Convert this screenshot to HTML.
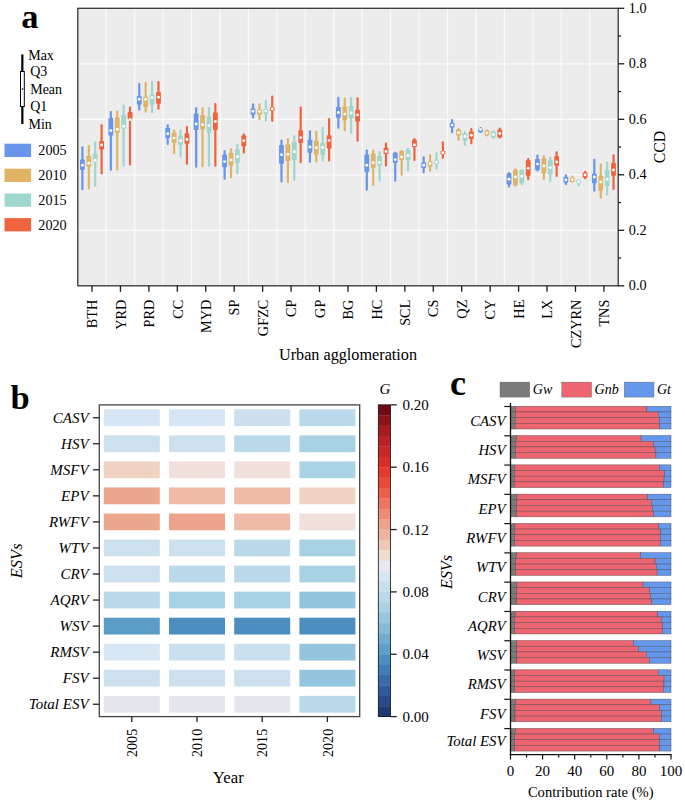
<!DOCTYPE html>
<html><head><meta charset="utf-8"><style>
html,body{margin:0;padding:0;background:#fff;}
svg{display:block;}
text{font-family:"Liberation Serif", serif;fill:#000;}
.it{font-style:italic;}
.bd{font-weight:bold;}
</style></head><body>
<svg width="685" height="802" viewBox="0 0 685 802">
<rect x="77.8" y="8.3" width="540.4" height="277.5" fill="#ebeceb"/>
<line x1="77.8" x2="618.2" y1="230.30" y2="230.30" stroke="#fbfbfb" stroke-width="1.2"/>
<line x1="77.8" x2="618.2" y1="174.80" y2="174.80" stroke="#fbfbfb" stroke-width="1.2"/>
<line x1="77.8" x2="618.2" y1="119.30" y2="119.30" stroke="#fbfbfb" stroke-width="1.2"/>
<line x1="77.8" x2="618.2" y1="63.80" y2="63.80" stroke="#fbfbfb" stroke-width="1.2"/>
<line x1="106.22" x2="106.22" y1="8.3" y2="285.8" stroke="#fbfbfb" stroke-width="1.2"/>
<line x1="134.66" x2="134.66" y1="8.3" y2="285.8" stroke="#fbfbfb" stroke-width="1.2"/>
<line x1="163.10" x2="163.10" y1="8.3" y2="285.8" stroke="#fbfbfb" stroke-width="1.2"/>
<line x1="191.54" x2="191.54" y1="8.3" y2="285.8" stroke="#fbfbfb" stroke-width="1.2"/>
<line x1="219.98" x2="219.98" y1="8.3" y2="285.8" stroke="#fbfbfb" stroke-width="1.2"/>
<line x1="248.42" x2="248.42" y1="8.3" y2="285.8" stroke="#fbfbfb" stroke-width="1.2"/>
<line x1="276.86" x2="276.86" y1="8.3" y2="285.8" stroke="#fbfbfb" stroke-width="1.2"/>
<line x1="305.30" x2="305.30" y1="8.3" y2="285.8" stroke="#fbfbfb" stroke-width="1.2"/>
<line x1="333.74" x2="333.74" y1="8.3" y2="285.8" stroke="#fbfbfb" stroke-width="1.2"/>
<line x1="362.18" x2="362.18" y1="8.3" y2="285.8" stroke="#fbfbfb" stroke-width="1.2"/>
<line x1="390.62" x2="390.62" y1="8.3" y2="285.8" stroke="#fbfbfb" stroke-width="1.2"/>
<line x1="419.06" x2="419.06" y1="8.3" y2="285.8" stroke="#fbfbfb" stroke-width="1.2"/>
<line x1="447.50" x2="447.50" y1="8.3" y2="285.8" stroke="#fbfbfb" stroke-width="1.2"/>
<line x1="475.94" x2="475.94" y1="8.3" y2="285.8" stroke="#fbfbfb" stroke-width="1.2"/>
<line x1="504.38" x2="504.38" y1="8.3" y2="285.8" stroke="#fbfbfb" stroke-width="1.2"/>
<line x1="532.82" x2="532.82" y1="8.3" y2="285.8" stroke="#fbfbfb" stroke-width="1.2"/>
<line x1="561.26" x2="561.26" y1="8.3" y2="285.8" stroke="#fbfbfb" stroke-width="1.2"/>
<line x1="589.70" x2="589.70" y1="8.3" y2="285.8" stroke="#fbfbfb" stroke-width="1.2"/>
<rect x="81.30" y="146.2" width="2.2" height="44.1" rx="1" fill="#6796ea"/>
<rect x="80.00" y="159.6" width="4.8" height="10.1" rx="0.6" fill="#6796ea"/>
<circle cx="82.40" cy="165.3" r="1.45" fill="#fff"/>
<rect x="87.70" y="144.9" width="2.2" height="44.7" rx="1" fill="#e0b464"/>
<rect x="86.40" y="155.9" width="4.8" height="10.9" rx="0.6" fill="#e0b464"/>
<circle cx="88.80" cy="163.2" r="1.45" fill="#fff"/>
<rect x="94.10" y="141.3" width="2.2" height="45.4" rx="1" fill="#9fd7cf"/>
<rect x="92.80" y="153.5" width="4.8" height="8.1" rx="0.6" fill="#9fd7cf"/>
<circle cx="95.20" cy="160.3" r="1.45" fill="#fff"/>
<rect x="100.50" y="124.3" width="2.2" height="50.2" rx="1" fill="#ef643c"/>
<rect x="99.20" y="141.0" width="4.8" height="8.4" rx="0.6" fill="#ef643c"/>
<circle cx="101.60" cy="145.0" r="1.45" fill="#fff"/>
<rect x="109.74" y="111.0" width="2.2" height="59.8" rx="1" fill="#6796ea"/>
<rect x="108.44" y="118.1" width="4.8" height="17.5" rx="0.6" fill="#6796ea"/>
<circle cx="110.84" cy="130.6" r="1.45" fill="#fff"/>
<rect x="116.14" y="110.5" width="2.2" height="60.0" rx="1" fill="#e0b464"/>
<rect x="114.84" y="117.5" width="4.8" height="15.4" rx="0.6" fill="#e0b464"/>
<circle cx="117.24" cy="129.2" r="1.45" fill="#fff"/>
<rect x="122.54" y="104.5" width="2.2" height="62.3" rx="1" fill="#9fd7cf"/>
<rect x="121.24" y="114.9" width="4.8" height="13.8" rx="0.6" fill="#9fd7cf"/>
<circle cx="123.64" cy="126.2" r="1.45" fill="#fff"/>
<rect x="128.94" y="106.5" width="2.2" height="59.1" rx="1" fill="#ef643c"/>
<rect x="127.64" y="112.1" width="4.8" height="7.3" rx="0.6" fill="#ef643c"/>
<circle cx="130.04" cy="119.4" r="1.45" fill="#fff"/>
<rect x="138.18" y="83.0" width="2.2" height="27.5" rx="1" fill="#6796ea"/>
<rect x="136.88" y="95.9" width="4.8" height="8.6" rx="0.6" fill="#6796ea"/>
<circle cx="139.28" cy="99.2" r="1.45" fill="#fff"/>
<rect x="144.58" y="81.8" width="2.2" height="30.7" rx="1" fill="#e0b464"/>
<rect x="143.28" y="96.7" width="4.8" height="10.3" rx="0.6" fill="#e0b464"/>
<circle cx="145.68" cy="99.2" r="1.45" fill="#fff"/>
<rect x="150.98" y="81.0" width="2.2" height="32.0" rx="1" fill="#9fd7cf"/>
<rect x="149.68" y="94.3" width="4.8" height="10.2" rx="0.6" fill="#9fd7cf"/>
<circle cx="152.08" cy="97.6" r="1.45" fill="#fff"/>
<rect x="157.38" y="81.0" width="2.2" height="28.7" rx="1" fill="#ef643c"/>
<rect x="156.08" y="91.9" width="4.8" height="11.8" rx="0.6" fill="#ef643c"/>
<circle cx="158.48" cy="97.2" r="1.45" fill="#fff"/>
<rect x="166.62" y="124.3" width="2.2" height="20.6" rx="1" fill="#6796ea"/>
<rect x="165.32" y="127.9" width="4.8" height="10.2" rx="0.6" fill="#6796ea"/>
<circle cx="167.72" cy="133.7" r="1.45" fill="#fff"/>
<rect x="173.02" y="129.6" width="2.2" height="24.7" rx="1" fill="#e0b464"/>
<rect x="171.72" y="132.4" width="4.8" height="10.5" rx="0.6" fill="#e0b464"/>
<circle cx="174.12" cy="138.1" r="1.45" fill="#fff"/>
<rect x="179.42" y="129.6" width="2.2" height="28.2" rx="1" fill="#9fd7cf"/>
<rect x="178.12" y="135.6" width="4.8" height="9.3" rx="0.6" fill="#9fd7cf"/>
<circle cx="180.52" cy="140.8" r="1.45" fill="#fff"/>
<rect x="185.82" y="125.9" width="2.2" height="38.9" rx="1" fill="#ef643c"/>
<rect x="184.52" y="133.2" width="4.8" height="10.5" rx="0.6" fill="#ef643c"/>
<circle cx="186.92" cy="139.4" r="1.45" fill="#fff"/>
<rect x="195.06" y="107.3" width="2.2" height="60.4" rx="1" fill="#6796ea"/>
<rect x="193.76" y="113.4" width="4.8" height="16.6" rx="0.6" fill="#6796ea"/>
<circle cx="196.16" cy="124.0" r="1.45" fill="#fff"/>
<rect x="201.46" y="107.3" width="2.2" height="59.9" rx="1" fill="#e0b464"/>
<rect x="200.16" y="115.0" width="4.8" height="14.6" rx="0.6" fill="#e0b464"/>
<circle cx="202.56" cy="124.8" r="1.45" fill="#fff"/>
<rect x="207.86" y="107.0" width="2.2" height="59.8" rx="1" fill="#9fd7cf"/>
<rect x="206.56" y="116.5" width="4.8" height="16.4" rx="0.6" fill="#9fd7cf"/>
<circle cx="208.96" cy="125.6" r="1.45" fill="#fff"/>
<rect x="214.26" y="102.9" width="2.2" height="63.9" rx="1" fill="#ef643c"/>
<rect x="212.96" y="112.6" width="4.8" height="17.4" rx="0.6" fill="#ef643c"/>
<circle cx="215.36" cy="121.5" r="1.45" fill="#fff"/>
<rect x="223.50" y="149.9" width="2.2" height="29.8" rx="1" fill="#6796ea"/>
<rect x="222.20" y="154.6" width="4.8" height="12.6" rx="0.6" fill="#6796ea"/>
<circle cx="224.60" cy="161.6" r="1.45" fill="#fff"/>
<rect x="229.90" y="148.3" width="2.2" height="30.0" rx="1" fill="#e0b464"/>
<rect x="228.60" y="152.7" width="4.8" height="12.9" rx="0.6" fill="#e0b464"/>
<circle cx="231.00" cy="160.0" r="1.45" fill="#fff"/>
<rect x="236.30" y="143.7" width="2.2" height="30.8" rx="1" fill="#9fd7cf"/>
<rect x="235.00" y="149.4" width="4.8" height="13.8" rx="0.6" fill="#9fd7cf"/>
<circle cx="237.40" cy="156.7" r="1.45" fill="#fff"/>
<rect x="242.70" y="133.2" width="2.2" height="20.3" rx="1" fill="#ef643c"/>
<rect x="241.40" y="135.6" width="4.8" height="10.6" rx="0.6" fill="#ef643c"/>
<circle cx="243.80" cy="140.8" r="1.45" fill="#fff"/>
<rect x="251.94" y="103.2" width="2.2" height="15.4" rx="1" fill="#6796ea"/>
<rect x="250.64" y="108.4" width="4.8" height="6.2" rx="0.6" fill="#6796ea"/>
<circle cx="253.04" cy="111.3" r="1.45" fill="#fff"/>
<rect x="258.34" y="103.2" width="2.2" height="17.0" rx="1" fill="#e0b464"/>
<rect x="257.04" y="109.4" width="4.8" height="5.2" rx="0.6" fill="#e0b464"/>
<circle cx="259.44" cy="111.6" r="1.45" fill="#fff"/>
<rect x="264.74" y="99.7" width="2.2" height="21.8" rx="1" fill="#9fd7cf"/>
<rect x="263.44" y="108.9" width="4.8" height="4.9" rx="0.6" fill="#9fd7cf"/>
<circle cx="265.84" cy="111.0" r="1.45" fill="#fff"/>
<rect x="271.14" y="95.4" width="2.2" height="26.5" rx="1" fill="#ef643c"/>
<rect x="269.84" y="107.3" width="4.8" height="3.5" rx="0.6" fill="#ef643c"/>
<circle cx="272.24" cy="108.9" r="1.45" fill="#fff"/>
<rect x="280.38" y="139.4" width="2.2" height="43.2" rx="1" fill="#6796ea"/>
<rect x="279.08" y="145.0" width="4.8" height="18.7" rx="0.6" fill="#6796ea"/>
<circle cx="281.48" cy="154.8" r="1.45" fill="#fff"/>
<rect x="286.78" y="138.1" width="2.2" height="44.9" rx="1" fill="#e0b464"/>
<rect x="285.48" y="144.2" width="4.8" height="16.9" rx="0.6" fill="#e0b464"/>
<circle cx="287.88" cy="154.3" r="1.45" fill="#fff"/>
<rect x="293.18" y="135.3" width="2.2" height="45.4" rx="1" fill="#9fd7cf"/>
<rect x="291.88" y="142.1" width="4.8" height="17.9" rx="0.6" fill="#9fd7cf"/>
<circle cx="294.28" cy="151.8" r="1.45" fill="#fff"/>
<rect x="299.58" y="106.5" width="2.2" height="56.7" rx="1" fill="#ef643c"/>
<rect x="298.28" y="130.3" width="4.8" height="12.6" rx="0.6" fill="#ef643c"/>
<circle cx="300.68" cy="137.6" r="1.45" fill="#fff"/>
<rect x="308.82" y="130.3" width="2.2" height="32.4" rx="1" fill="#6796ea"/>
<rect x="307.52" y="139.7" width="4.8" height="13.0" rx="0.6" fill="#6796ea"/>
<circle cx="309.92" cy="147.0" r="1.45" fill="#fff"/>
<rect x="315.22" y="130.8" width="2.2" height="31.6" rx="1" fill="#e0b464"/>
<rect x="313.92" y="140.8" width="4.8" height="13.8" rx="0.6" fill="#e0b464"/>
<circle cx="316.32" cy="147.8" r="1.45" fill="#fff"/>
<rect x="321.62" y="126.7" width="2.2" height="34.9" rx="1" fill="#9fd7cf"/>
<rect x="320.32" y="142.9" width="4.8" height="12.2" rx="0.6" fill="#9fd7cf"/>
<circle cx="322.72" cy="147.5" r="1.45" fill="#fff"/>
<rect x="328.02" y="118.1" width="2.2" height="43.5" rx="1" fill="#ef643c"/>
<rect x="326.72" y="135.2" width="4.8" height="13.4" rx="0.6" fill="#ef643c"/>
<circle cx="329.12" cy="140.5" r="1.45" fill="#fff"/>
<rect x="337.26" y="96.7" width="2.2" height="32.0" rx="1" fill="#6796ea"/>
<rect x="335.96" y="107.0" width="4.8" height="10.8" rx="0.6" fill="#6796ea"/>
<circle cx="338.36" cy="112.5" r="1.45" fill="#fff"/>
<rect x="343.66" y="97.6" width="2.2" height="33.7" rx="1" fill="#e0b464"/>
<rect x="342.36" y="106.5" width="4.8" height="14.1" rx="0.6" fill="#e0b464"/>
<circle cx="344.76" cy="114.1" r="1.45" fill="#fff"/>
<rect x="350.06" y="96.7" width="2.2" height="37.0" rx="1" fill="#9fd7cf"/>
<rect x="348.76" y="106.0" width="4.8" height="12.3" rx="0.6" fill="#9fd7cf"/>
<circle cx="351.16" cy="113.0" r="1.45" fill="#fff"/>
<rect x="356.46" y="97.2" width="2.2" height="44.6" rx="1" fill="#ef643c"/>
<rect x="355.16" y="109.7" width="4.8" height="11.8" rx="0.6" fill="#ef643c"/>
<circle cx="357.56" cy="114.9" r="1.45" fill="#fff"/>
<rect x="365.70" y="149.4" width="2.2" height="41.3" rx="1" fill="#6796ea"/>
<rect x="364.40" y="154.6" width="4.8" height="17.5" rx="0.6" fill="#6796ea"/>
<circle cx="366.80" cy="165.3" r="1.45" fill="#fff"/>
<rect x="372.10" y="149.4" width="2.2" height="36.5" rx="1" fill="#e0b464"/>
<rect x="370.80" y="153.5" width="4.8" height="14.6" rx="0.6" fill="#e0b464"/>
<circle cx="373.20" cy="162.7" r="1.45" fill="#fff"/>
<rect x="378.50" y="151.0" width="2.2" height="30.5" rx="1" fill="#9fd7cf"/>
<rect x="377.20" y="155.9" width="4.8" height="9.7" rx="0.6" fill="#9fd7cf"/>
<circle cx="379.60" cy="162.4" r="1.45" fill="#fff"/>
<rect x="384.90" y="142.4" width="2.2" height="24.0" rx="1" fill="#ef643c"/>
<rect x="383.60" y="147.8" width="4.8" height="6.2" rx="0.6" fill="#ef643c"/>
<circle cx="386.00" cy="151.5" r="1.45" fill="#fff"/>
<rect x="394.14" y="151.8" width="2.2" height="30.0" rx="1" fill="#6796ea"/>
<rect x="392.84" y="152.7" width="4.8" height="10.0" rx="0.6" fill="#6796ea"/>
<circle cx="395.24" cy="159.6" r="1.45" fill="#fff"/>
<rect x="400.54" y="149.7" width="2.2" height="26.0" rx="1" fill="#e0b464"/>
<rect x="399.24" y="151.0" width="4.8" height="9.0" rx="0.6" fill="#e0b464"/>
<circle cx="401.64" cy="157.0" r="1.45" fill="#fff"/>
<rect x="406.94" y="147.8" width="2.2" height="23.8" rx="1" fill="#9fd7cf"/>
<rect x="405.64" y="149.4" width="4.8" height="10.6" rx="0.6" fill="#9fd7cf"/>
<circle cx="408.04" cy="155.6" r="1.45" fill="#fff"/>
<rect x="413.34" y="138.1" width="2.2" height="23.0" rx="1" fill="#ef643c"/>
<rect x="412.04" y="139.7" width="4.8" height="7.3" rx="0.6" fill="#ef643c"/>
<circle cx="414.44" cy="144.9" r="1.45" fill="#fff"/>
<rect x="422.58" y="156.2" width="2.2" height="17.0" rx="1" fill="#6796ea"/>
<rect x="421.28" y="162.4" width="4.8" height="5.7" rx="0.6" fill="#6796ea"/>
<circle cx="423.68" cy="165.3" r="1.45" fill="#fff"/>
<rect x="428.98" y="154.3" width="2.2" height="17.5" rx="1" fill="#e0b464"/>
<rect x="427.68" y="161.6" width="4.8" height="4.8" rx="0.6" fill="#e0b464"/>
<circle cx="430.08" cy="163.7" r="1.45" fill="#fff"/>
<rect x="435.38" y="152.2" width="2.2" height="17.5" rx="1" fill="#9fd7cf"/>
<rect x="434.08" y="160.4" width="4.8" height="3.6" rx="0.6" fill="#9fd7cf"/>
<circle cx="436.48" cy="162.1" r="1.45" fill="#fff"/>
<rect x="441.78" y="141.3" width="2.2" height="17.5" rx="1" fill="#ef643c"/>
<rect x="440.48" y="151.0" width="4.8" height="3.3" rx="0.6" fill="#ef643c"/>
<circle cx="442.88" cy="152.7" r="1.45" fill="#fff"/>
<rect x="451.02" y="118.9" width="2.2" height="14.3" rx="1" fill="#6796ea"/>
<rect x="449.72" y="122.7" width="4.8" height="4.8" rx="0.6" fill="#6796ea"/>
<circle cx="452.12" cy="125.1" r="1.45" fill="#fff"/>
<rect x="457.42" y="128.0" width="2.2" height="13.0" rx="1" fill="#e0b464"/>
<rect x="456.12" y="129.6" width="4.8" height="6.0" rx="0.6" fill="#e0b464"/>
<circle cx="458.52" cy="132.7" r="1.45" fill="#fff"/>
<rect x="463.82" y="131.3" width="2.2" height="14.4" rx="1" fill="#9fd7cf"/>
<rect x="462.52" y="133.2" width="4.8" height="7.3" rx="0.6" fill="#9fd7cf"/>
<circle cx="464.92" cy="136.5" r="1.45" fill="#fff"/>
<rect x="470.22" y="128.0" width="2.2" height="16.2" rx="1" fill="#ef643c"/>
<rect x="468.92" y="131.6" width="4.8" height="7.3" rx="0.6" fill="#ef643c"/>
<circle cx="471.32" cy="135.2" r="1.45" fill="#fff"/>
<rect x="479.46" y="127.0" width="2.2" height="5.9" rx="1" fill="#6796ea"/>
<rect x="478.16" y="128.8" width="4.8" height="3.5" rx="0.6" fill="#6796ea"/>
<circle cx="480.56" cy="129.6" r="1.45" fill="#fff"/>
<rect x="485.86" y="129.2" width="2.2" height="7.3" rx="1" fill="#e0b464"/>
<rect x="484.56" y="130.3" width="4.8" height="5.3" rx="0.6" fill="#e0b464"/>
<circle cx="486.96" cy="132.9" r="1.45" fill="#fff"/>
<rect x="492.26" y="130.3" width="2.2" height="8.6" rx="1" fill="#9fd7cf"/>
<rect x="490.96" y="131.9" width="4.8" height="5.4" rx="0.6" fill="#9fd7cf"/>
<circle cx="493.36" cy="134.5" r="1.45" fill="#fff"/>
<rect x="498.66" y="127.5" width="2.2" height="10.9" rx="1" fill="#ef643c"/>
<rect x="497.36" y="129.4" width="4.8" height="8.2" rx="0.6" fill="#ef643c"/>
<circle cx="499.76" cy="133.5" r="1.45" fill="#fff"/>
<rect x="507.90" y="172.0" width="2.2" height="15.5" rx="1" fill="#6796ea"/>
<rect x="506.60" y="173.3" width="4.8" height="11.3" rx="0.6" fill="#6796ea"/>
<circle cx="509.00" cy="179.2" r="1.45" fill="#fff"/>
<rect x="514.30" y="168.3" width="2.2" height="18.4" rx="1" fill="#e0b464"/>
<rect x="513.00" y="169.9" width="4.8" height="15.3" rx="0.6" fill="#e0b464"/>
<circle cx="515.40" cy="177.0" r="1.45" fill="#fff"/>
<rect x="520.70" y="169.1" width="2.2" height="16.1" rx="1" fill="#9fd7cf"/>
<rect x="519.40" y="169.9" width="4.8" height="13.4" rx="0.6" fill="#9fd7cf"/>
<circle cx="521.80" cy="176.2" r="1.45" fill="#fff"/>
<rect x="527.10" y="157.9" width="2.2" height="22.3" rx="1" fill="#ef643c"/>
<rect x="525.80" y="160.1" width="4.8" height="15.7" rx="0.6" fill="#ef643c"/>
<circle cx="528.20" cy="168.3" r="1.45" fill="#fff"/>
<rect x="536.34" y="154.5" width="2.2" height="16.9" rx="1" fill="#6796ea"/>
<rect x="535.04" y="159.1" width="4.8" height="10.8" rx="0.6" fill="#6796ea"/>
<circle cx="537.44" cy="164.1" r="1.45" fill="#fff"/>
<rect x="542.74" y="155.3" width="2.2" height="24.6" rx="1" fill="#e0b464"/>
<rect x="541.44" y="158.2" width="4.8" height="15.1" rx="0.6" fill="#e0b464"/>
<circle cx="543.84" cy="166.0" r="1.45" fill="#fff"/>
<rect x="549.14" y="156.6" width="2.2" height="25.8" rx="1" fill="#9fd7cf"/>
<rect x="547.84" y="159.9" width="4.8" height="14.6" rx="0.6" fill="#9fd7cf"/>
<circle cx="550.24" cy="167.6" r="1.45" fill="#fff"/>
<rect x="555.54" y="151.3" width="2.2" height="25.7" rx="1" fill="#ef643c"/>
<rect x="554.24" y="156.3" width="4.8" height="9.5" rx="0.6" fill="#ef643c"/>
<circle cx="556.64" cy="162.0" r="1.45" fill="#fff"/>
<rect x="564.78" y="174.2" width="2.2" height="10.8" rx="1" fill="#6796ea"/>
<rect x="563.48" y="176.7" width="4.8" height="6.0" rx="0.6" fill="#6796ea"/>
<circle cx="565.88" cy="179.9" r="1.45" fill="#fff"/>
<rect x="571.18" y="175.4" width="2.2" height="7.3" rx="1" fill="#e0b464"/>
<rect x="569.88" y="177.4" width="4.8" height="4.7" rx="0.6" fill="#e0b464"/>
<circle cx="572.28" cy="179.8" r="1.45" fill="#fff"/>
<rect x="577.58" y="178.9" width="2.2" height="7.3" rx="1" fill="#9fd7cf"/>
<rect x="576.28" y="179.9" width="4.8" height="3.4" rx="0.6" fill="#9fd7cf"/>
<circle cx="578.68" cy="181.7" r="1.45" fill="#fff"/>
<rect x="583.98" y="170.8" width="2.2" height="8.4" rx="1" fill="#ef643c"/>
<rect x="582.68" y="172.4" width="4.8" height="5.3" rx="0.6" fill="#ef643c"/>
<circle cx="585.08" cy="174.9" r="1.45" fill="#fff"/>
<rect x="593.22" y="158.8" width="2.2" height="33.0" rx="1" fill="#6796ea"/>
<rect x="591.92" y="173.8" width="4.8" height="9.4" rx="0.6" fill="#6796ea"/>
<circle cx="594.32" cy="177.0" r="1.45" fill="#fff"/>
<rect x="599.62" y="163.5" width="2.2" height="35.3" rx="1" fill="#e0b464"/>
<rect x="598.32" y="175.8" width="4.8" height="15.0" rx="0.6" fill="#e0b464"/>
<circle cx="600.72" cy="182.0" r="1.45" fill="#fff"/>
<rect x="606.02" y="161.5" width="2.2" height="34.0" rx="1" fill="#9fd7cf"/>
<rect x="604.72" y="170.0" width="4.8" height="16.0" rx="0.6" fill="#9fd7cf"/>
<circle cx="607.12" cy="179.3" r="1.45" fill="#fff"/>
<rect x="612.42" y="154.3" width="2.2" height="35.7" rx="1" fill="#ef643c"/>
<rect x="611.12" y="163.0" width="4.8" height="12.8" rx="0.6" fill="#ef643c"/>
<circle cx="613.52" cy="170.0" r="1.45" fill="#fff"/>
<rect x="77.8" y="8.3" width="540.4" height="277.5" fill="none" stroke="#333" stroke-width="1.3"/>
<line x1="618.2" x2="624.2" y1="285.80" y2="285.80" stroke="#1a1a1a" stroke-width="1.3"/>
<text x="628.8" y="290.00" font-size="14.2">0.0</text>
<line x1="618.2" x2="621.0" y1="258.05" y2="258.05" stroke="#1a1a1a" stroke-width="1.3"/>
<line x1="618.2" x2="624.2" y1="230.30" y2="230.30" stroke="#1a1a1a" stroke-width="1.3"/>
<text x="628.8" y="234.50" font-size="14.2">0.2</text>
<line x1="618.2" x2="621.0" y1="202.55" y2="202.55" stroke="#1a1a1a" stroke-width="1.3"/>
<line x1="618.2" x2="624.2" y1="174.80" y2="174.80" stroke="#1a1a1a" stroke-width="1.3"/>
<text x="628.8" y="179.00" font-size="14.2">0.4</text>
<line x1="618.2" x2="621.0" y1="147.05" y2="147.05" stroke="#1a1a1a" stroke-width="1.3"/>
<line x1="618.2" x2="624.2" y1="119.30" y2="119.30" stroke="#1a1a1a" stroke-width="1.3"/>
<text x="628.8" y="123.50" font-size="14.2">0.6</text>
<line x1="618.2" x2="621.0" y1="91.55" y2="91.55" stroke="#1a1a1a" stroke-width="1.3"/>
<line x1="618.2" x2="624.2" y1="63.80" y2="63.80" stroke="#1a1a1a" stroke-width="1.3"/>
<text x="628.8" y="68.00" font-size="14.2">0.8</text>
<line x1="618.2" x2="621.0" y1="36.05" y2="36.05" stroke="#1a1a1a" stroke-width="1.3"/>
<line x1="618.2" x2="624.2" y1="8.30" y2="8.30" stroke="#1a1a1a" stroke-width="1.3"/>
<text x="628.8" y="12.50" font-size="14.2">1.0</text>
<text transform="translate(665.2,147) rotate(-90)" text-anchor="middle" font-size="15.8">CCD</text>
<line x1="92.00" x2="92.00" y1="285.8" y2="291.8" stroke="#1a1a1a" stroke-width="1.3"/>
<text transform="translate(97.20,299.6) rotate(-90)" text-anchor="end" font-size="14.3">BTH</text>
<line x1="120.44" x2="120.44" y1="285.8" y2="291.8" stroke="#1a1a1a" stroke-width="1.3"/>
<text transform="translate(125.64,299.6) rotate(-90)" text-anchor="end" font-size="14.3">YRD</text>
<line x1="148.88" x2="148.88" y1="285.8" y2="291.8" stroke="#1a1a1a" stroke-width="1.3"/>
<text transform="translate(154.08,299.6) rotate(-90)" text-anchor="end" font-size="14.3">PRD</text>
<line x1="177.32" x2="177.32" y1="285.8" y2="291.8" stroke="#1a1a1a" stroke-width="1.3"/>
<text transform="translate(182.52,299.6) rotate(-90)" text-anchor="end" font-size="14.3">CC</text>
<line x1="205.76" x2="205.76" y1="285.8" y2="291.8" stroke="#1a1a1a" stroke-width="1.3"/>
<text transform="translate(210.96,299.6) rotate(-90)" text-anchor="end" font-size="14.3">MYD</text>
<line x1="234.20" x2="234.20" y1="285.8" y2="291.8" stroke="#1a1a1a" stroke-width="1.3"/>
<text transform="translate(239.40,299.6) rotate(-90)" text-anchor="end" font-size="14.3">SP</text>
<line x1="262.64" x2="262.64" y1="285.8" y2="291.8" stroke="#1a1a1a" stroke-width="1.3"/>
<text transform="translate(267.84,299.6) rotate(-90)" text-anchor="end" font-size="14.3">GFZC</text>
<line x1="291.08" x2="291.08" y1="285.8" y2="291.8" stroke="#1a1a1a" stroke-width="1.3"/>
<text transform="translate(296.28,299.6) rotate(-90)" text-anchor="end" font-size="14.3">CP</text>
<line x1="319.52" x2="319.52" y1="285.8" y2="291.8" stroke="#1a1a1a" stroke-width="1.3"/>
<text transform="translate(324.72,299.6) rotate(-90)" text-anchor="end" font-size="14.3">GP</text>
<line x1="347.96" x2="347.96" y1="285.8" y2="291.8" stroke="#1a1a1a" stroke-width="1.3"/>
<text transform="translate(353.16,299.6) rotate(-90)" text-anchor="end" font-size="14.3">BG</text>
<line x1="376.40" x2="376.40" y1="285.8" y2="291.8" stroke="#1a1a1a" stroke-width="1.3"/>
<text transform="translate(381.60,299.6) rotate(-90)" text-anchor="end" font-size="14.3">HC</text>
<line x1="404.84" x2="404.84" y1="285.8" y2="291.8" stroke="#1a1a1a" stroke-width="1.3"/>
<text transform="translate(410.04,299.6) rotate(-90)" text-anchor="end" font-size="14.3">SCL</text>
<line x1="433.28" x2="433.28" y1="285.8" y2="291.8" stroke="#1a1a1a" stroke-width="1.3"/>
<text transform="translate(438.48,299.6) rotate(-90)" text-anchor="end" font-size="14.3">CS</text>
<line x1="461.72" x2="461.72" y1="285.8" y2="291.8" stroke="#1a1a1a" stroke-width="1.3"/>
<text transform="translate(466.92,299.6) rotate(-90)" text-anchor="end" font-size="14.3">QZ</text>
<line x1="490.16" x2="490.16" y1="285.8" y2="291.8" stroke="#1a1a1a" stroke-width="1.3"/>
<text transform="translate(495.36,299.6) rotate(-90)" text-anchor="end" font-size="14.3">CY</text>
<line x1="518.60" x2="518.60" y1="285.8" y2="291.8" stroke="#1a1a1a" stroke-width="1.3"/>
<text transform="translate(523.80,299.6) rotate(-90)" text-anchor="end" font-size="14.3">HE</text>
<line x1="547.04" x2="547.04" y1="285.8" y2="291.8" stroke="#1a1a1a" stroke-width="1.3"/>
<text transform="translate(552.24,299.6) rotate(-90)" text-anchor="end" font-size="14.3">LX</text>
<line x1="575.48" x2="575.48" y1="285.8" y2="291.8" stroke="#1a1a1a" stroke-width="1.3"/>
<text transform="translate(580.68,299.6) rotate(-90)" text-anchor="end" font-size="14.3">CZYRN</text>
<line x1="603.92" x2="603.92" y1="285.8" y2="291.8" stroke="#1a1a1a" stroke-width="1.3"/>
<text transform="translate(609.12,299.6) rotate(-90)" text-anchor="end" font-size="14.3">TNS</text>
<text x="348" y="360" text-anchor="middle" font-size="16.2">Urban agglomeration</text>
<text x="21.3" y="27.6" class="bd" font-size="34.5">a</text>
<line x1="22.35" x2="22.35" y1="54.5" y2="124" stroke="#000" stroke-width="2.2"/>
<rect x="20.5" y="71.5" width="3.8" height="35" fill="#fff" stroke="#000" stroke-width="1"/>
<circle cx="22.5" cy="89.1" r="0.8" fill="#111"/>
<text x="28.2" y="59.6" font-size="14">Max</text>
<text x="30.2" y="76.4" font-size="14">Q3</text>
<text x="30.2" y="94" font-size="14">Mean</text>
<text x="30.2" y="111.2" font-size="14">Q1</text>
<text x="28.5" y="128.5" font-size="14">Min</text>
<rect x="4.5" y="143.7" width="26.6" height="13.3" fill="#6796ea"/>
<text x="38.3" y="155.29999999999998" font-size="14.2">2005</text>
<rect x="4.5" y="168.7" width="26.6" height="13.3" fill="#e0b464"/>
<text x="38.3" y="180.29999999999998" font-size="14.2">2010</text>
<rect x="4.5" y="193.5" width="26.6" height="13.3" fill="#9fd7cf"/>
<text x="38.3" y="205.1" font-size="14.2">2015</text>
<rect x="4.5" y="218.1" width="26.6" height="13.3" fill="#ef643c"/>
<text x="38.3" y="229.7" font-size="14.2">2020</text>
<rect x="103.8" y="409.30" width="56" height="16.8" fill="#d6e6f4"/>
<rect x="169.0" y="409.30" width="56" height="16.8" fill="#d6e6f4"/>
<rect x="234.2" y="409.30" width="56" height="16.8" fill="#cbdfee"/>
<rect x="299.4" y="409.30" width="56" height="16.8" fill="#bad9ea"/>
<rect x="103.8" y="435.35" width="56" height="16.8" fill="#cde0ee"/>
<rect x="169.0" y="435.35" width="56" height="16.8" fill="#cde0ee"/>
<rect x="234.2" y="435.35" width="56" height="16.8" fill="#bad9ea"/>
<rect x="299.4" y="435.35" width="56" height="16.8" fill="#a9d1e4"/>
<rect x="103.8" y="461.40" width="56" height="16.8" fill="#f1d3c3"/>
<rect x="169.0" y="461.40" width="56" height="16.8" fill="#f0e0dc"/>
<rect x="234.2" y="461.40" width="56" height="16.8" fill="#f0e0dc"/>
<rect x="299.4" y="461.40" width="56" height="16.8" fill="#aad3e5"/>
<rect x="103.8" y="487.45" width="56" height="16.8" fill="#eba78c"/>
<rect x="169.0" y="487.45" width="56" height="16.8" fill="#efbba6"/>
<rect x="234.2" y="487.45" width="56" height="16.8" fill="#efbba6"/>
<rect x="299.4" y="487.45" width="56" height="16.8" fill="#f1d3c3"/>
<rect x="103.8" y="513.50" width="56" height="16.8" fill="#eba78c"/>
<rect x="169.0" y="513.50" width="56" height="16.8" fill="#eba48b"/>
<rect x="234.2" y="513.50" width="56" height="16.8" fill="#efbba6"/>
<rect x="299.4" y="513.50" width="56" height="16.8" fill="#f0e0dc"/>
<rect x="103.8" y="539.55" width="56" height="16.8" fill="#cde0ee"/>
<rect x="169.0" y="539.55" width="56" height="16.8" fill="#cde0ee"/>
<rect x="234.2" y="539.55" width="56" height="16.8" fill="#bad9ea"/>
<rect x="299.4" y="539.55" width="56" height="16.8" fill="#a9d1e4"/>
<rect x="103.8" y="565.60" width="56" height="16.8" fill="#cde0ee"/>
<rect x="169.0" y="565.60" width="56" height="16.8" fill="#bad9ea"/>
<rect x="234.2" y="565.60" width="56" height="16.8" fill="#bad9ea"/>
<rect x="299.4" y="565.60" width="56" height="16.8" fill="#a9d1e4"/>
<rect x="103.8" y="591.65" width="56" height="16.8" fill="#bad9ea"/>
<rect x="169.0" y="591.65" width="56" height="16.8" fill="#a9d1e4"/>
<rect x="234.2" y="591.65" width="56" height="16.8" fill="#a9d1e4"/>
<rect x="299.4" y="591.65" width="56" height="16.8" fill="#92c5de"/>
<rect x="103.8" y="617.70" width="56" height="16.8" fill="#5b9dc7"/>
<rect x="169.0" y="617.70" width="56" height="16.8" fill="#4d8ec1"/>
<rect x="234.2" y="617.70" width="56" height="16.8" fill="#4d8ec1"/>
<rect x="299.4" y="617.70" width="56" height="16.8" fill="#4d8ec1"/>
<rect x="103.8" y="643.75" width="56" height="16.8" fill="#d7e7f3"/>
<rect x="169.0" y="643.75" width="56" height="16.8" fill="#cbe0ee"/>
<rect x="234.2" y="643.75" width="56" height="16.8" fill="#cbe0ee"/>
<rect x="299.4" y="643.75" width="56" height="16.8" fill="#93c5de"/>
<rect x="103.8" y="669.80" width="56" height="16.8" fill="#cde0ee"/>
<rect x="169.0" y="669.80" width="56" height="16.8" fill="#cde0ee"/>
<rect x="234.2" y="669.80" width="56" height="16.8" fill="#cde0ee"/>
<rect x="299.4" y="669.80" width="56" height="16.8" fill="#93c5de"/>
<rect x="103.8" y="695.85" width="56" height="16.8" fill="#e4e6ec"/>
<rect x="169.0" y="695.85" width="56" height="16.8" fill="#e4e6ec"/>
<rect x="234.2" y="695.85" width="56" height="16.8" fill="#e4e6ec"/>
<rect x="299.4" y="695.85" width="56" height="16.8" fill="#bad9ea"/>
<rect x="99.3" y="404.9" width="260.4" height="311.7" fill="none" stroke="#444" stroke-width="1.3"/>
<line x1="92.9" x2="99.3" y1="417.70" y2="417.70" stroke="#222" stroke-width="1.3"/>
<text x="88.6" y="422.70" text-anchor="end" class="it" font-size="15">CASV</text>
<line x1="92.9" x2="99.3" y1="443.75" y2="443.75" stroke="#222" stroke-width="1.3"/>
<text x="88.6" y="448.75" text-anchor="end" class="it" font-size="15">HSV</text>
<line x1="92.9" x2="99.3" y1="469.80" y2="469.80" stroke="#222" stroke-width="1.3"/>
<text x="88.6" y="474.80" text-anchor="end" class="it" font-size="15">MSFV</text>
<line x1="92.9" x2="99.3" y1="495.85" y2="495.85" stroke="#222" stroke-width="1.3"/>
<text x="88.6" y="500.85" text-anchor="end" class="it" font-size="15">EPV</text>
<line x1="92.9" x2="99.3" y1="521.90" y2="521.90" stroke="#222" stroke-width="1.3"/>
<text x="88.6" y="526.90" text-anchor="end" class="it" font-size="15">RWFV</text>
<line x1="92.9" x2="99.3" y1="547.95" y2="547.95" stroke="#222" stroke-width="1.3"/>
<text x="88.6" y="552.95" text-anchor="end" class="it" font-size="15">WTV</text>
<line x1="92.9" x2="99.3" y1="574.00" y2="574.00" stroke="#222" stroke-width="1.3"/>
<text x="88.6" y="579.00" text-anchor="end" class="it" font-size="15">CRV</text>
<line x1="92.9" x2="99.3" y1="600.05" y2="600.05" stroke="#222" stroke-width="1.3"/>
<text x="88.6" y="605.05" text-anchor="end" class="it" font-size="15">AQRV</text>
<line x1="92.9" x2="99.3" y1="626.10" y2="626.10" stroke="#222" stroke-width="1.3"/>
<text x="88.6" y="631.10" text-anchor="end" class="it" font-size="15">WSV</text>
<line x1="92.9" x2="99.3" y1="652.15" y2="652.15" stroke="#222" stroke-width="1.3"/>
<text x="88.6" y="657.15" text-anchor="end" class="it" font-size="15">RMSV</text>
<line x1="92.9" x2="99.3" y1="678.20" y2="678.20" stroke="#222" stroke-width="1.3"/>
<text x="88.6" y="683.20" text-anchor="end" class="it" font-size="15">FSV</text>
<line x1="92.9" x2="99.3" y1="704.25" y2="704.25" stroke="#222" stroke-width="1.3"/>
<text x="88.6" y="709.25" text-anchor="end" class="it" font-size="15">Total ESV</text>
<line x1="131.8" x2="131.8" y1="716.6" y2="722.1" stroke="#222" stroke-width="1.3"/>
<text transform="translate(137.0,728.8) rotate(-90)" text-anchor="end" font-size="14.1">2005</text>
<line x1="197.0" x2="197.0" y1="716.6" y2="722.1" stroke="#222" stroke-width="1.3"/>
<text transform="translate(202.2,728.8) rotate(-90)" text-anchor="end" font-size="14.1">2010</text>
<line x1="262.2" x2="262.2" y1="716.6" y2="722.1" stroke="#222" stroke-width="1.3"/>
<text transform="translate(267.4,728.8) rotate(-90)" text-anchor="end" font-size="14.1">2015</text>
<line x1="327.4" x2="327.4" y1="716.6" y2="722.1" stroke="#222" stroke-width="1.3"/>
<text transform="translate(332.6,728.8) rotate(-90)" text-anchor="end" font-size="14.1">2020</text>
<text x="228.3" y="782.6" text-anchor="middle" font-size="16.8">Year</text>
<text transform="translate(22.3,560.8) rotate(-90)" text-anchor="middle" class="it" font-size="16.5">ESVs</text>
<text x="10.6" y="408.8" class="bd" font-size="34.5">b</text>
<rect x="378.3" y="404.85" width="12.2" height="10.69" fill="#6f0b16"/>
<rect x="378.3" y="415.24" width="12.2" height="10.69" fill="#8b141a"/>
<rect x="378.3" y="425.63" width="12.2" height="10.69" fill="#a71c20"/>
<rect x="378.3" y="436.03" width="12.2" height="10.69" fill="#b92125"/>
<rect x="378.3" y="446.42" width="12.2" height="10.69" fill="#c92727"/>
<rect x="378.3" y="456.81" width="12.2" height="10.69" fill="#d92d2a"/>
<rect x="378.3" y="467.20" width="12.2" height="10.69" fill="#e6382d"/>
<rect x="378.3" y="477.59" width="12.2" height="10.69" fill="#eb4a3a"/>
<rect x="378.3" y="487.98" width="12.2" height="10.69" fill="#ec5f4b"/>
<rect x="378.3" y="498.38" width="12.2" height="10.69" fill="#ed7660"/>
<rect x="378.3" y="508.77" width="12.2" height="10.69" fill="#ee8b75"/>
<rect x="378.3" y="519.16" width="12.2" height="10.69" fill="#eea08a"/>
<rect x="378.3" y="529.55" width="12.2" height="10.69" fill="#efb49f"/>
<rect x="378.3" y="539.94" width="12.2" height="10.69" fill="#f0c8b8"/>
<rect x="378.3" y="550.33" width="12.2" height="10.69" fill="#f0dcd2"/>
<rect x="378.3" y="560.73" width="12.2" height="10.69" fill="#e8e9f1"/>
<rect x="378.3" y="571.12" width="12.2" height="10.69" fill="#d5e6f4"/>
<rect x="378.3" y="581.51" width="12.2" height="10.69" fill="#c9dfed"/>
<rect x="378.3" y="591.90" width="12.2" height="10.69" fill="#bcd9ea"/>
<rect x="378.3" y="602.29" width="12.2" height="10.69" fill="#abd2e4"/>
<rect x="378.3" y="612.68" width="12.2" height="10.69" fill="#98c7df"/>
<rect x="378.3" y="623.08" width="12.2" height="10.69" fill="#86bbd8"/>
<rect x="378.3" y="633.47" width="12.2" height="10.69" fill="#71adcf"/>
<rect x="378.3" y="643.86" width="12.2" height="10.69" fill="#5d9fc8"/>
<rect x="378.3" y="654.25" width="12.2" height="10.69" fill="#4d8ec1"/>
<rect x="378.3" y="664.64" width="12.2" height="10.69" fill="#417db7"/>
<rect x="378.3" y="675.03" width="12.2" height="10.69" fill="#386bac"/>
<rect x="378.3" y="685.43" width="12.2" height="10.69" fill="#2f599b"/>
<rect x="378.3" y="695.82" width="12.2" height="10.69" fill="#284a88"/>
<rect x="378.3" y="706.21" width="12.2" height="10.69" fill="#1f3b70"/>
<rect x="378.3" y="404.85" width="12.2" height="311.75" fill="none" stroke="#111" stroke-width="0.8"/>
<line x1="390.5" x2="396.7" y1="716.60" y2="716.60" stroke="#222" stroke-width="1.3"/>
<text x="402.6" y="721.80" font-size="15">0.00</text>
<line x1="390.5" x2="396.7" y1="654.25" y2="654.25" stroke="#222" stroke-width="1.3"/>
<text x="402.6" y="659.45" font-size="15">0.04</text>
<line x1="390.5" x2="396.7" y1="591.90" y2="591.90" stroke="#222" stroke-width="1.3"/>
<text x="402.6" y="597.10" font-size="15">0.08</text>
<line x1="390.5" x2="396.7" y1="529.55" y2="529.55" stroke="#222" stroke-width="1.3"/>
<text x="402.6" y="534.75" font-size="15">0.12</text>
<line x1="390.5" x2="396.7" y1="467.20" y2="467.20" stroke="#222" stroke-width="1.3"/>
<text x="402.6" y="472.40" font-size="15">0.16</text>
<line x1="390.5" x2="396.7" y1="404.85" y2="404.85" stroke="#222" stroke-width="1.3"/>
<text x="402.6" y="410.05" font-size="15">0.20</text>
<text x="379.5" y="394" class="it" font-size="15">G</text>
<rect x="510.5" y="406.30" width="5.14" height="5.67" fill="#7b7b7b" stroke="#555" stroke-width="0.5"/>
<rect x="515.64" y="406.30" width="131.13" height="5.67" fill="#ec6570" stroke="#6a4a4e" stroke-width="0.5"/>
<rect x="646.76" y="406.30" width="24.24" height="5.67" fill="#6597ea" stroke="#4a5a7a" stroke-width="0.5"/>
<rect x="510.5" y="411.97" width="4.82" height="5.67" fill="#7b7b7b" stroke="#555" stroke-width="0.5"/>
<rect x="515.32" y="411.97" width="143.17" height="5.67" fill="#ec6570" stroke="#6a4a4e" stroke-width="0.5"/>
<rect x="658.48" y="411.97" width="12.52" height="5.67" fill="#6597ea" stroke="#4a5a7a" stroke-width="0.5"/>
<rect x="510.5" y="417.64" width="4.82" height="5.67" fill="#7b7b7b" stroke="#555" stroke-width="0.5"/>
<rect x="515.32" y="417.64" width="144.29" height="5.67" fill="#ec6570" stroke="#6a4a4e" stroke-width="0.5"/>
<rect x="659.60" y="417.64" width="11.40" height="5.67" fill="#6597ea" stroke="#4a5a7a" stroke-width="0.5"/>
<rect x="510.5" y="423.31" width="4.65" height="5.67" fill="#7b7b7b" stroke="#555" stroke-width="0.5"/>
<rect x="515.15" y="423.31" width="144.61" height="5.67" fill="#ec6570" stroke="#6a4a4e" stroke-width="0.5"/>
<rect x="659.76" y="423.31" width="11.24" height="5.67" fill="#6597ea" stroke="#4a5a7a" stroke-width="0.5"/>
<rect x="510.5" y="435.58" width="6.10" height="5.67" fill="#7b7b7b" stroke="#555" stroke-width="0.5"/>
<rect x="516.60" y="435.58" width="124.55" height="5.67" fill="#ec6570" stroke="#6a4a4e" stroke-width="0.5"/>
<rect x="641.15" y="435.58" width="29.85" height="5.67" fill="#6597ea" stroke="#4a5a7a" stroke-width="0.5"/>
<rect x="510.5" y="441.25" width="5.14" height="5.67" fill="#7b7b7b" stroke="#555" stroke-width="0.5"/>
<rect x="515.64" y="441.25" width="138.03" height="5.67" fill="#ec6570" stroke="#6a4a4e" stroke-width="0.5"/>
<rect x="653.67" y="441.25" width="17.33" height="5.67" fill="#6597ea" stroke="#4a5a7a" stroke-width="0.5"/>
<rect x="510.5" y="446.92" width="5.14" height="5.67" fill="#7b7b7b" stroke="#555" stroke-width="0.5"/>
<rect x="515.64" y="446.92" width="139.47" height="5.67" fill="#ec6570" stroke="#6a4a4e" stroke-width="0.5"/>
<rect x="655.11" y="446.92" width="15.89" height="5.67" fill="#6597ea" stroke="#4a5a7a" stroke-width="0.5"/>
<rect x="510.5" y="452.59" width="5.14" height="5.67" fill="#7b7b7b" stroke="#555" stroke-width="0.5"/>
<rect x="515.64" y="452.59" width="140.28" height="5.67" fill="#ec6570" stroke="#6a4a4e" stroke-width="0.5"/>
<rect x="655.91" y="452.59" width="15.09" height="5.67" fill="#6597ea" stroke="#4a5a7a" stroke-width="0.5"/>
<rect x="510.5" y="464.86" width="4.33" height="5.67" fill="#7b7b7b" stroke="#555" stroke-width="0.5"/>
<rect x="514.83" y="464.86" width="144.61" height="5.67" fill="#ec6570" stroke="#6a4a4e" stroke-width="0.5"/>
<rect x="659.44" y="464.86" width="11.56" height="5.67" fill="#6597ea" stroke="#4a5a7a" stroke-width="0.5"/>
<rect x="510.5" y="470.53" width="3.85" height="5.67" fill="#7b7b7b" stroke="#555" stroke-width="0.5"/>
<rect x="514.35" y="470.53" width="150.39" height="5.67" fill="#ec6570" stroke="#6a4a4e" stroke-width="0.5"/>
<rect x="664.74" y="470.53" width="6.26" height="5.67" fill="#6597ea" stroke="#4a5a7a" stroke-width="0.5"/>
<rect x="510.5" y="476.20" width="3.85" height="5.67" fill="#7b7b7b" stroke="#555" stroke-width="0.5"/>
<rect x="514.35" y="476.20" width="149.75" height="5.67" fill="#ec6570" stroke="#6a4a4e" stroke-width="0.5"/>
<rect x="664.10" y="476.20" width="6.90" height="5.67" fill="#6597ea" stroke="#4a5a7a" stroke-width="0.5"/>
<rect x="510.5" y="481.87" width="3.85" height="5.67" fill="#7b7b7b" stroke="#555" stroke-width="0.5"/>
<rect x="514.35" y="481.87" width="149.26" height="5.67" fill="#ec6570" stroke="#6a4a4e" stroke-width="0.5"/>
<rect x="663.62" y="481.87" width="7.38" height="5.67" fill="#6597ea" stroke="#4a5a7a" stroke-width="0.5"/>
<rect x="510.5" y="494.14" width="6.42" height="5.67" fill="#7b7b7b" stroke="#555" stroke-width="0.5"/>
<rect x="516.92" y="494.14" width="130.33" height="5.67" fill="#ec6570" stroke="#6a4a4e" stroke-width="0.5"/>
<rect x="647.25" y="494.14" width="23.75" height="5.67" fill="#6597ea" stroke="#4a5a7a" stroke-width="0.5"/>
<rect x="510.5" y="499.81" width="6.10" height="5.67" fill="#7b7b7b" stroke="#555" stroke-width="0.5"/>
<rect x="516.60" y="499.81" width="134.66" height="5.67" fill="#ec6570" stroke="#6a4a4e" stroke-width="0.5"/>
<rect x="651.26" y="499.81" width="19.74" height="5.67" fill="#6597ea" stroke="#4a5a7a" stroke-width="0.5"/>
<rect x="510.5" y="505.48" width="6.10" height="5.67" fill="#7b7b7b" stroke="#555" stroke-width="0.5"/>
<rect x="516.60" y="505.48" width="135.78" height="5.67" fill="#ec6570" stroke="#6a4a4e" stroke-width="0.5"/>
<rect x="652.38" y="505.48" width="18.62" height="5.67" fill="#6597ea" stroke="#4a5a7a" stroke-width="0.5"/>
<rect x="510.5" y="511.15" width="6.10" height="5.67" fill="#7b7b7b" stroke="#555" stroke-width="0.5"/>
<rect x="516.60" y="511.15" width="136.91" height="5.67" fill="#ec6570" stroke="#6a4a4e" stroke-width="0.5"/>
<rect x="653.51" y="511.15" width="17.49" height="5.67" fill="#6597ea" stroke="#4a5a7a" stroke-width="0.5"/>
<rect x="510.5" y="523.42" width="4.33" height="5.67" fill="#7b7b7b" stroke="#555" stroke-width="0.5"/>
<rect x="514.83" y="523.42" width="143.97" height="5.67" fill="#ec6570" stroke="#6a4a4e" stroke-width="0.5"/>
<rect x="658.80" y="523.42" width="12.20" height="5.67" fill="#6597ea" stroke="#4a5a7a" stroke-width="0.5"/>
<rect x="510.5" y="529.09" width="4.01" height="5.67" fill="#7b7b7b" stroke="#555" stroke-width="0.5"/>
<rect x="514.51" y="529.09" width="146.05" height="5.67" fill="#ec6570" stroke="#6a4a4e" stroke-width="0.5"/>
<rect x="660.57" y="529.09" width="10.43" height="5.67" fill="#6597ea" stroke="#4a5a7a" stroke-width="0.5"/>
<rect x="510.5" y="534.76" width="4.01" height="5.67" fill="#7b7b7b" stroke="#555" stroke-width="0.5"/>
<rect x="514.51" y="534.76" width="145.73" height="5.67" fill="#ec6570" stroke="#6a4a4e" stroke-width="0.5"/>
<rect x="660.25" y="534.76" width="10.75" height="5.67" fill="#6597ea" stroke="#4a5a7a" stroke-width="0.5"/>
<rect x="510.5" y="540.43" width="4.01" height="5.67" fill="#7b7b7b" stroke="#555" stroke-width="0.5"/>
<rect x="514.51" y="540.43" width="145.73" height="5.67" fill="#ec6570" stroke="#6a4a4e" stroke-width="0.5"/>
<rect x="660.25" y="540.43" width="10.75" height="5.67" fill="#6597ea" stroke="#4a5a7a" stroke-width="0.5"/>
<rect x="510.5" y="552.70" width="6.10" height="5.67" fill="#7b7b7b" stroke="#555" stroke-width="0.5"/>
<rect x="516.60" y="552.70" width="123.75" height="5.67" fill="#ec6570" stroke="#6a4a4e" stroke-width="0.5"/>
<rect x="640.34" y="552.70" width="30.66" height="5.67" fill="#6597ea" stroke="#4a5a7a" stroke-width="0.5"/>
<rect x="510.5" y="558.37" width="5.14" height="5.67" fill="#7b7b7b" stroke="#555" stroke-width="0.5"/>
<rect x="515.64" y="558.37" width="139.47" height="5.67" fill="#ec6570" stroke="#6a4a4e" stroke-width="0.5"/>
<rect x="655.11" y="558.37" width="15.89" height="5.67" fill="#6597ea" stroke="#4a5a7a" stroke-width="0.5"/>
<rect x="510.5" y="564.04" width="5.14" height="5.67" fill="#7b7b7b" stroke="#555" stroke-width="0.5"/>
<rect x="515.64" y="564.04" width="140.76" height="5.67" fill="#ec6570" stroke="#6a4a4e" stroke-width="0.5"/>
<rect x="656.39" y="564.04" width="14.61" height="5.67" fill="#6597ea" stroke="#4a5a7a" stroke-width="0.5"/>
<rect x="510.5" y="569.71" width="5.14" height="5.67" fill="#7b7b7b" stroke="#555" stroke-width="0.5"/>
<rect x="515.64" y="569.71" width="141.56" height="5.67" fill="#ec6570" stroke="#6a4a4e" stroke-width="0.5"/>
<rect x="657.20" y="569.71" width="13.80" height="5.67" fill="#6597ea" stroke="#4a5a7a" stroke-width="0.5"/>
<rect x="510.5" y="581.98" width="6.42" height="5.67" fill="#7b7b7b" stroke="#555" stroke-width="0.5"/>
<rect x="516.92" y="581.98" width="126.15" height="5.67" fill="#ec6570" stroke="#6a4a4e" stroke-width="0.5"/>
<rect x="643.07" y="581.98" width="27.93" height="5.67" fill="#6597ea" stroke="#4a5a7a" stroke-width="0.5"/>
<rect x="510.5" y="587.65" width="6.10" height="5.67" fill="#7b7b7b" stroke="#555" stroke-width="0.5"/>
<rect x="516.60" y="587.65" width="133.05" height="5.67" fill="#ec6570" stroke="#6a4a4e" stroke-width="0.5"/>
<rect x="649.65" y="587.65" width="21.35" height="5.67" fill="#6597ea" stroke="#4a5a7a" stroke-width="0.5"/>
<rect x="510.5" y="593.32" width="6.10" height="5.67" fill="#7b7b7b" stroke="#555" stroke-width="0.5"/>
<rect x="516.60" y="593.32" width="134.02" height="5.67" fill="#ec6570" stroke="#6a4a4e" stroke-width="0.5"/>
<rect x="650.62" y="593.32" width="20.38" height="5.67" fill="#6597ea" stroke="#4a5a7a" stroke-width="0.5"/>
<rect x="510.5" y="598.99" width="6.10" height="5.67" fill="#7b7b7b" stroke="#555" stroke-width="0.5"/>
<rect x="516.60" y="598.99" width="135.14" height="5.67" fill="#ec6570" stroke="#6a4a4e" stroke-width="0.5"/>
<rect x="651.74" y="598.99" width="19.26" height="5.67" fill="#6597ea" stroke="#4a5a7a" stroke-width="0.5"/>
<rect x="510.5" y="611.26" width="4.65" height="5.67" fill="#7b7b7b" stroke="#555" stroke-width="0.5"/>
<rect x="515.15" y="611.26" width="142.52" height="5.67" fill="#ec6570" stroke="#6a4a4e" stroke-width="0.5"/>
<rect x="657.68" y="611.26" width="13.32" height="5.67" fill="#6597ea" stroke="#4a5a7a" stroke-width="0.5"/>
<rect x="510.5" y="616.93" width="4.01" height="5.67" fill="#7b7b7b" stroke="#555" stroke-width="0.5"/>
<rect x="514.51" y="616.93" width="146.86" height="5.67" fill="#ec6570" stroke="#6a4a4e" stroke-width="0.5"/>
<rect x="661.37" y="616.93" width="9.63" height="5.67" fill="#6597ea" stroke="#4a5a7a" stroke-width="0.5"/>
<rect x="510.5" y="622.60" width="4.01" height="5.67" fill="#7b7b7b" stroke="#555" stroke-width="0.5"/>
<rect x="514.51" y="622.60" width="148.14" height="5.67" fill="#ec6570" stroke="#6a4a4e" stroke-width="0.5"/>
<rect x="662.65" y="622.60" width="8.35" height="5.67" fill="#6597ea" stroke="#4a5a7a" stroke-width="0.5"/>
<rect x="510.5" y="628.27" width="4.01" height="5.67" fill="#7b7b7b" stroke="#555" stroke-width="0.5"/>
<rect x="514.51" y="628.27" width="147.82" height="5.67" fill="#ec6570" stroke="#6a4a4e" stroke-width="0.5"/>
<rect x="662.33" y="628.27" width="8.67" height="5.67" fill="#6597ea" stroke="#4a5a7a" stroke-width="0.5"/>
<rect x="510.5" y="640.54" width="6.26" height="5.67" fill="#7b7b7b" stroke="#555" stroke-width="0.5"/>
<rect x="516.76" y="640.54" width="116.52" height="5.67" fill="#ec6570" stroke="#6a4a4e" stroke-width="0.5"/>
<rect x="633.28" y="640.54" width="37.72" height="5.67" fill="#6597ea" stroke="#4a5a7a" stroke-width="0.5"/>
<rect x="510.5" y="646.21" width="6.26" height="5.67" fill="#7b7b7b" stroke="#555" stroke-width="0.5"/>
<rect x="516.76" y="646.21" width="121.82" height="5.67" fill="#ec6570" stroke="#6a4a4e" stroke-width="0.5"/>
<rect x="638.58" y="646.21" width="32.42" height="5.67" fill="#6597ea" stroke="#4a5a7a" stroke-width="0.5"/>
<rect x="510.5" y="651.88" width="6.26" height="5.67" fill="#7b7b7b" stroke="#555" stroke-width="0.5"/>
<rect x="516.76" y="651.88" width="129.52" height="5.67" fill="#ec6570" stroke="#6a4a4e" stroke-width="0.5"/>
<rect x="646.28" y="651.88" width="24.72" height="5.67" fill="#6597ea" stroke="#4a5a7a" stroke-width="0.5"/>
<rect x="510.5" y="657.55" width="6.26" height="5.67" fill="#7b7b7b" stroke="#555" stroke-width="0.5"/>
<rect x="516.76" y="657.55" width="132.73" height="5.67" fill="#ec6570" stroke="#6a4a4e" stroke-width="0.5"/>
<rect x="649.49" y="657.55" width="21.51" height="5.67" fill="#6597ea" stroke="#4a5a7a" stroke-width="0.5"/>
<rect x="510.5" y="669.82" width="4.17" height="5.67" fill="#7b7b7b" stroke="#555" stroke-width="0.5"/>
<rect x="514.67" y="669.82" width="143.65" height="5.67" fill="#ec6570" stroke="#6a4a4e" stroke-width="0.5"/>
<rect x="658.32" y="669.82" width="12.68" height="5.67" fill="#6597ea" stroke="#4a5a7a" stroke-width="0.5"/>
<rect x="510.5" y="675.49" width="4.17" height="5.67" fill="#7b7b7b" stroke="#555" stroke-width="0.5"/>
<rect x="514.67" y="675.49" width="149.43" height="5.67" fill="#ec6570" stroke="#6a4a4e" stroke-width="0.5"/>
<rect x="664.10" y="675.49" width="6.90" height="5.67" fill="#6597ea" stroke="#4a5a7a" stroke-width="0.5"/>
<rect x="510.5" y="681.16" width="4.17" height="5.67" fill="#7b7b7b" stroke="#555" stroke-width="0.5"/>
<rect x="514.67" y="681.16" width="149.26" height="5.67" fill="#ec6570" stroke="#6a4a4e" stroke-width="0.5"/>
<rect x="663.94" y="681.16" width="7.06" height="5.67" fill="#6597ea" stroke="#4a5a7a" stroke-width="0.5"/>
<rect x="510.5" y="686.83" width="4.17" height="5.67" fill="#7b7b7b" stroke="#555" stroke-width="0.5"/>
<rect x="514.67" y="686.83" width="148.62" height="5.67" fill="#ec6570" stroke="#6a4a4e" stroke-width="0.5"/>
<rect x="663.30" y="686.83" width="7.70" height="5.67" fill="#6597ea" stroke="#4a5a7a" stroke-width="0.5"/>
<rect x="510.5" y="699.10" width="5.14" height="5.67" fill="#7b7b7b" stroke="#555" stroke-width="0.5"/>
<rect x="515.64" y="699.10" width="135.30" height="5.67" fill="#ec6570" stroke="#6a4a4e" stroke-width="0.5"/>
<rect x="650.94" y="699.10" width="20.06" height="5.67" fill="#6597ea" stroke="#4a5a7a" stroke-width="0.5"/>
<rect x="510.5" y="704.77" width="4.49" height="5.67" fill="#7b7b7b" stroke="#555" stroke-width="0.5"/>
<rect x="514.99" y="704.77" width="144.77" height="5.67" fill="#ec6570" stroke="#6a4a4e" stroke-width="0.5"/>
<rect x="659.76" y="704.77" width="11.24" height="5.67" fill="#6597ea" stroke="#4a5a7a" stroke-width="0.5"/>
<rect x="510.5" y="710.44" width="4.49" height="5.67" fill="#7b7b7b" stroke="#555" stroke-width="0.5"/>
<rect x="514.99" y="710.44" width="146.38" height="5.67" fill="#ec6570" stroke="#6a4a4e" stroke-width="0.5"/>
<rect x="661.37" y="710.44" width="9.63" height="5.67" fill="#6597ea" stroke="#4a5a7a" stroke-width="0.5"/>
<rect x="510.5" y="716.11" width="4.49" height="5.67" fill="#7b7b7b" stroke="#555" stroke-width="0.5"/>
<rect x="514.99" y="716.11" width="146.54" height="5.67" fill="#ec6570" stroke="#6a4a4e" stroke-width="0.5"/>
<rect x="661.53" y="716.11" width="9.47" height="5.67" fill="#6597ea" stroke="#4a5a7a" stroke-width="0.5"/>
<rect x="510.5" y="728.38" width="4.98" height="5.67" fill="#7b7b7b" stroke="#555" stroke-width="0.5"/>
<rect x="515.48" y="728.38" width="138.19" height="5.67" fill="#ec6570" stroke="#6a4a4e" stroke-width="0.5"/>
<rect x="653.67" y="728.38" width="17.33" height="5.67" fill="#6597ea" stroke="#4a5a7a" stroke-width="0.5"/>
<rect x="510.5" y="734.05" width="4.17" height="5.67" fill="#7b7b7b" stroke="#555" stroke-width="0.5"/>
<rect x="514.67" y="734.05" width="144.77" height="5.67" fill="#ec6570" stroke="#6a4a4e" stroke-width="0.5"/>
<rect x="659.44" y="734.05" width="11.56" height="5.67" fill="#6597ea" stroke="#4a5a7a" stroke-width="0.5"/>
<rect x="510.5" y="739.72" width="4.17" height="5.67" fill="#7b7b7b" stroke="#555" stroke-width="0.5"/>
<rect x="514.67" y="739.72" width="144.93" height="5.67" fill="#ec6570" stroke="#6a4a4e" stroke-width="0.5"/>
<rect x="659.60" y="739.72" width="11.40" height="5.67" fill="#6597ea" stroke="#4a5a7a" stroke-width="0.5"/>
<rect x="510.5" y="745.39" width="4.17" height="5.67" fill="#7b7b7b" stroke="#555" stroke-width="0.5"/>
<rect x="514.67" y="745.39" width="145.09" height="5.67" fill="#ec6570" stroke="#6a4a4e" stroke-width="0.5"/>
<rect x="659.76" y="745.39" width="11.24" height="5.67" fill="#6597ea" stroke="#4a5a7a" stroke-width="0.5"/>
<line x1="510.5" x2="510.5" y1="402.9" y2="755.2" stroke="#111" stroke-width="1.3"/>
<line x1="509.9" x2="671.6" y1="754.6" y2="754.6" stroke="#111" stroke-width="1.3"/>
<line x1="504.3" x2="510.5" y1="406.50" y2="406.50" stroke="#111" stroke-width="1.2"/>
<text x="505.5" y="425.90" text-anchor="end" class="it" font-size="14.8">CASV</text>
<line x1="504.3" x2="510.5" y1="435.78" y2="435.78" stroke="#111" stroke-width="1.2"/>
<text x="505.5" y="455.18" text-anchor="end" class="it" font-size="14.8">HSV</text>
<line x1="504.3" x2="510.5" y1="465.06" y2="465.06" stroke="#111" stroke-width="1.2"/>
<text x="505.5" y="484.46" text-anchor="end" class="it" font-size="14.8">MSFV</text>
<line x1="504.3" x2="510.5" y1="494.34" y2="494.34" stroke="#111" stroke-width="1.2"/>
<text x="505.5" y="513.74" text-anchor="end" class="it" font-size="14.8">EPV</text>
<line x1="504.3" x2="510.5" y1="523.62" y2="523.62" stroke="#111" stroke-width="1.2"/>
<text x="505.5" y="543.02" text-anchor="end" class="it" font-size="14.8">RWFV</text>
<line x1="504.3" x2="510.5" y1="552.90" y2="552.90" stroke="#111" stroke-width="1.2"/>
<text x="505.5" y="572.30" text-anchor="end" class="it" font-size="14.8">WTV</text>
<line x1="504.3" x2="510.5" y1="582.18" y2="582.18" stroke="#111" stroke-width="1.2"/>
<text x="505.5" y="601.58" text-anchor="end" class="it" font-size="14.8">CRV</text>
<line x1="504.3" x2="510.5" y1="611.46" y2="611.46" stroke="#111" stroke-width="1.2"/>
<text x="505.5" y="630.86" text-anchor="end" class="it" font-size="14.8">AQRV</text>
<line x1="504.3" x2="510.5" y1="640.74" y2="640.74" stroke="#111" stroke-width="1.2"/>
<text x="505.5" y="660.14" text-anchor="end" class="it" font-size="14.8">WSV</text>
<line x1="504.3" x2="510.5" y1="670.02" y2="670.02" stroke="#111" stroke-width="1.2"/>
<text x="505.5" y="689.42" text-anchor="end" class="it" font-size="14.8">RMSV</text>
<line x1="504.3" x2="510.5" y1="699.30" y2="699.30" stroke="#111" stroke-width="1.2"/>
<text x="505.5" y="718.70" text-anchor="end" class="it" font-size="14.8">FSV</text>
<line x1="504.3" x2="510.5" y1="728.58" y2="728.58" stroke="#111" stroke-width="1.2"/>
<text x="505.5" y="746.18" text-anchor="end" class="it" font-size="14.8">Total ESV</text>
<line x1="510.50" x2="510.50" y1="754.6" y2="759.6" stroke="#111" stroke-width="1.2"/>
<text x="510.50" y="776.3" text-anchor="middle" font-size="15">0</text>
<line x1="526.55" x2="526.55" y1="754.6" y2="757.6" stroke="#111" stroke-width="1.2"/>
<line x1="542.60" x2="542.60" y1="754.6" y2="759.6" stroke="#111" stroke-width="1.2"/>
<text x="542.60" y="776.3" text-anchor="middle" font-size="15">20</text>
<line x1="558.65" x2="558.65" y1="754.6" y2="757.6" stroke="#111" stroke-width="1.2"/>
<line x1="574.70" x2="574.70" y1="754.6" y2="759.6" stroke="#111" stroke-width="1.2"/>
<text x="574.70" y="776.3" text-anchor="middle" font-size="15">40</text>
<line x1="590.75" x2="590.75" y1="754.6" y2="757.6" stroke="#111" stroke-width="1.2"/>
<line x1="606.80" x2="606.80" y1="754.6" y2="759.6" stroke="#111" stroke-width="1.2"/>
<text x="606.80" y="776.3" text-anchor="middle" font-size="15">60</text>
<line x1="622.85" x2="622.85" y1="754.6" y2="757.6" stroke="#111" stroke-width="1.2"/>
<line x1="638.90" x2="638.90" y1="754.6" y2="759.6" stroke="#111" stroke-width="1.2"/>
<text x="638.90" y="776.3" text-anchor="middle" font-size="15">80</text>
<line x1="654.95" x2="654.95" y1="754.6" y2="757.6" stroke="#111" stroke-width="1.2"/>
<line x1="671.00" x2="671.00" y1="754.6" y2="759.6" stroke="#111" stroke-width="1.2"/>
<text x="671.00" y="776.3" text-anchor="middle" font-size="15">100</text>
<text x="590.7" y="797.4" text-anchor="middle" font-size="14.6">Contribution rate (%)</text>
<text transform="translate(452,572) rotate(-90)" text-anchor="middle" class="it" font-size="16">ESVs</text>
<text x="450" y="395" class="bd" font-size="36">c</text>
<rect x="500" y="382.1" width="29.8" height="15" fill="#7b7b7b" stroke="#666" stroke-width="0.4"/>
<text x="532.8" y="394" class="it" font-size="14">Gw</text>
<rect x="561.8" y="382.1" width="29.8" height="15" fill="#ec6570" stroke="#666" stroke-width="0.4"/>
<text x="594.5999999999999" y="394" class="it" font-size="14">Gnb</text>
<rect x="624.2" y="382.1" width="29.8" height="15" fill="#6597ea" stroke="#666" stroke-width="0.4"/>
<text x="657.0" y="394" class="it" font-size="14">Gt</text>
</svg></body></html>
